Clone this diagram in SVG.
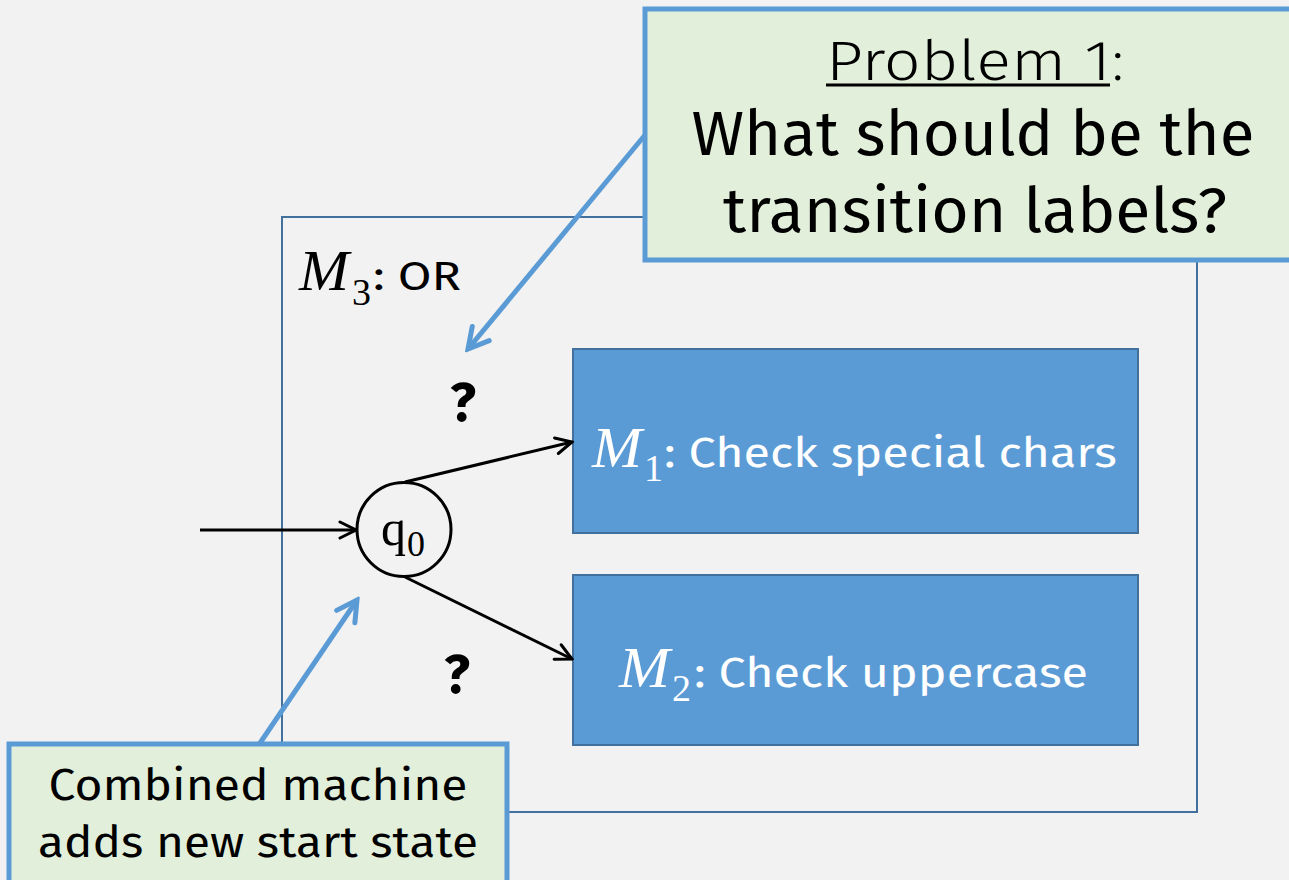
<svg xmlns="http://www.w3.org/2000/svg" width="1289" height="880" viewBox="0 0 1289 880">
  <style>
    .sans { font-family: "Fira Sans", "Noto Sans", "Open Sans", sans-serif; }
    .math { font-family: "Liberation Serif", "DejaVu Serif", serif; font-style: italic; }
    .serif { font-family: "Liberation Serif", "DejaVu Serif", serif; }
    .machine { fill: #5b9bd5; stroke: #41719c; stroke-width: 2; }
    .note { fill: #e2efda; stroke: #5b9bd5; stroke-width: 5; }
    .edge { fill: none; stroke: #000; stroke-width: 3; }
    .pointer { fill: none; stroke: #5b9bd5; stroke-width: 5; }
  </style>
  <defs>
    <marker id="head" viewBox="0 0 20 20" refX="18" refY="10" markerWidth="20" markerHeight="20" markerUnits="userSpaceOnUse" orient="auto">
      <path d="M2,2 L18,10 L2,18" fill="none" stroke="#000" stroke-width="3" stroke-linecap="round"/>
    </marker>
    <marker id="bluehead" viewBox="0 0 30 30" refX="26" refY="15" markerWidth="30" markerHeight="30" markerUnits="userSpaceOnUse" orient="auto">
      <path d="M6,4 L26,15 L6,26" fill="none" stroke="#5b9bd5" stroke-width="5" stroke-linecap="round"/>
    </marker>
  </defs>

  <rect width="1289" height="880" fill="#f2f2f2"/>

  <!-- combined machine M3 -->
  <g id="m3">
    <rect x="282" y="217" width="915" height="595" fill="none" stroke="#41719c" stroke-width="2"/>
    <text class="math" x="299" y="290" font-size="56" fill="#000" textLength="50" lengthAdjust="spacingAndGlyphs">M</text>
    <text class="serif" x="352" y="305" font-size="38" fill="#000">3</text>
    <text class="sans" x="373" y="290" font-size="40" fill="#000" textLength="88" lengthAdjust="spacingAndGlyphs">: OR</text>
  </g>

  <!-- sub-machine M1 -->
  <g id="m1">
    <rect class="machine" x="573" y="349" width="565" height="184"/>
    <text class="math" x="592" y="467" font-size="56" fill="#fff" textLength="50" lengthAdjust="spacingAndGlyphs">M</text>
    <text class="serif" x="644" y="481" font-size="38" fill="#fff">1</text>
    <text class="sans" x="664" y="467" font-size="42" fill="#fff" textLength="453" lengthAdjust="spacingAndGlyphs">: Check special chars</text>
  </g>

  <!-- sub-machine M2 -->
  <g id="m2">
    <rect class="machine" x="573" y="575" width="565" height="170"/>
    <text class="math" x="619" y="687" font-size="56" fill="#fff" textLength="51" lengthAdjust="spacingAndGlyphs">M</text>
    <text class="serif" x="672" y="701" font-size="38" fill="#fff">2</text>
    <text class="sans" x="694" y="687" font-size="42" fill="#fff" textLength="394" lengthAdjust="spacingAndGlyphs">: Check uppercase</text>
  </g>

  <!-- new start state -->
  <g id="q0">
    <circle cx="404" cy="529.5" r="47" fill="none" stroke="#000" stroke-width="3"/>
    <text class="serif" x="381" y="545" font-size="50" fill="#000">q</text>
    <text class="serif" x="407" y="556" font-size="36" fill="#000">0</text>
  </g>

  <!-- transitions and pointers -->
  <g id="connectors">
    <line class="edge" x1="200" y1="530" x2="356" y2="530" marker-end="url(#head)"/>
    <line class="edge" x1="405" y1="482" x2="572" y2="442" marker-end="url(#head)"/>
    <line class="edge" x1="405" y1="577" x2="572" y2="659" marker-end="url(#head)"/>
    <line class="pointer" x1="645" y1="135" x2="468" y2="349" marker-end="url(#bluehead)"/>
    <line class="pointer" x1="258" y1="746" x2="357" y2="600" marker-end="url(#bluehead)"/>
  </g>

  <!-- unknown transition labels -->
  <g id="labels">
    <text class="sans" x="463" y="421" font-size="54" font-weight="bold" text-anchor="middle" fill="#000">?</text>
    <text class="sans" x="457" y="693" font-size="54" font-weight="bold" text-anchor="middle" fill="#000">?</text>
  </g>

  <!-- question note -->
  <g id="problem-note">
    <rect class="note" x="645" y="9" width="660" height="251"/>
    <text class="sans" x="826" y="80" font-size="56" font-weight="300" fill="#000" textLength="285" lengthAdjust="spacingAndGlyphs">Problem 1</text>
    <line x1="826" y1="85" x2="1110" y2="85" stroke="#000" stroke-width="3"/>
    <text class="sans" x="1112" y="80" font-size="56" font-weight="300" fill="#000">:</text>
    <text class="sans" x="973" y="155" font-size="62" text-anchor="middle" fill="#000" textLength="563" lengthAdjust="spacingAndGlyphs">What should be the</text>
    <text class="sans" x="975" y="232" font-size="62" text-anchor="middle" fill="#000" textLength="504" lengthAdjust="spacingAndGlyphs">transition labels?</text>
  </g>

  <!-- start state note -->
  <g id="start-note">
    <rect class="note" x="9" y="744" width="498" height="150"/>
    <text class="sans" x="258" y="800" font-size="44" text-anchor="middle" fill="#000" textLength="419" lengthAdjust="spacingAndGlyphs">Combined machine</text>
    <text class="sans" x="258" y="857" font-size="44" text-anchor="middle" fill="#000" textLength="440" lengthAdjust="spacingAndGlyphs">adds new start state</text>
  </g>
</svg>
